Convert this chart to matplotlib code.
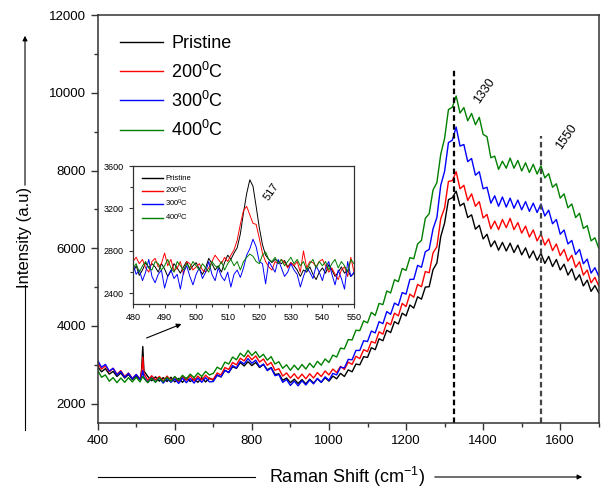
import numpy as np
import matplotlib
matplotlib.use('Agg')
import matplotlib.pyplot as plt

plt.rcParams['font.family'] = ['Liberation Sans', 'DejaVu Sans']
plt.rcParams['mathtext.fontset'] = 'custom'
plt.rcParams['mathtext.rm'] = 'Liberation Sans'
plt.rcParams['mathtext.it'] = 'Liberation Sans:italic'

# Raman shift grid (cm^-1), extra points around the 517 peak
shift = list(range(400, 511, 10)) + [514, 517, 520] + list(range(530, 1701, 10))

pristine = [2950, 2820, 2900, 2760, 2830, 2700, 2790, 2660, 2750, 2620, 2710, 2610,
            2880, 3470, 2840,
            2700, 2590, 2690, 2580, 2670, 2570, 2680, 2560, 2650, 2550, 2660, 2570, 2640, 2550, 2670, 2560, 2660,
            2600, 2730, 2690, 2860, 2800, 2950, 2910, 3060, 2970, 3080, 2980, 3060, 2930, 3010, 2870, 2930,
            2750, 2770, 2600, 2660,
            2540, 2630, 2520, 2620, 2510, 2630, 2530, 2640, 2550, 2670, 2580, 2710, 2640, 2780, 2700, 2870,
            2820, 3020, 3000, 3210,
            3190, 3440, 3390, 3670, 3620, 3890, 3830, 4110, 4050, 4330, 4260, 4540, 4460, 4750, 4690, 5000,
            5010, 5450, 5620, 6300,
            6650, 7250, 7300, 7470, 7090, 7160, 6790, 6860, 6490, 6590, 6240, 6360, 6040, 6190, 5950, 6150,
            5930, 6130, 5890, 6080,
            5830, 6010, 5750, 5930, 5690, 5870, 5610, 5790, 5530, 5710, 5440, 5590, 5310, 5470, 5180, 5320,
            5030, 5180, 4890, 5040, 4850]

c200 = [3040, 2890, 2970, 2820, 2910, 2760, 2850, 2700, 2790, 2650, 2750, 2630,
        2800, 3200, 2770,
        2600, 2720, 2610, 2700, 2580, 2710, 2590, 2690, 2570, 2700, 2600, 2720, 2590, 2710, 2610, 2730, 2640,
        2630, 2790, 2740, 2930, 2880, 3060, 3000, 3170, 3100, 3250, 3130, 3230, 3070, 3150, 2990, 3060,
        2860, 2900, 2710, 2790,
        2660, 2770, 2640, 2760, 2640, 2770, 2660, 2800, 2700, 2840, 2740, 2890, 2800, 2960, 2880, 3070,
        3010, 3220, 3160, 3390,
        3340, 3600, 3560, 3850, 3790, 4090, 4030, 4330, 4260, 4580, 4500, 4820, 4740, 5070, 5010, 5400,
        5370, 5880, 6040, 6760,
        7040, 7720, 7740, 7970, 7530, 7620, 7230, 7400, 7080, 7200, 6780, 6870, 6500, 6700, 6480, 6740,
        6530, 6770, 6480, 6660,
        6390, 6570, 6290, 6470, 6190, 6370, 6080, 6240, 5940, 6110, 5810, 5970, 5670, 5820, 5510, 5650,
        5310, 5440, 5110, 5250, 5030]

c300 = [3110, 2940, 3010, 2840, 2910, 2740, 2830, 2680, 2780, 2640, 2750, 2620,
        2700, 2850, 2680,
        2550, 2670, 2560, 2660, 2530, 2650, 2550, 2640, 2520, 2660, 2540, 2650, 2530, 2660, 2550, 2670, 2560,
        2570, 2740, 2690, 2860, 2800, 2980, 2920, 3090, 3020, 3160, 3040, 3120, 2950, 3020, 2850, 2920,
        2720, 2750, 2550, 2620,
        2470, 2580, 2460, 2590, 2480, 2610, 2510, 2650, 2550, 2690, 2600, 2780, 2740, 2940, 2920, 3140,
        3130, 3370, 3370, 3620,
        3600, 3870, 3820, 4110, 4060, 4370, 4300, 4590, 4530, 4860, 4820, 5200, 5200, 5560, 5510, 5910,
        5970, 6500, 6790, 7620,
        7980, 8720, 8780, 9120, 8630, 8670, 8230, 8310, 7880, 7970, 7530, 7570, 7160, 7350, 7080, 7320,
        7060, 7290, 7030, 7240,
        6990, 7200, 6950, 7160, 6920, 7140, 6830, 6980, 6630, 6740, 6360, 6470, 6110, 6200, 5840, 5970,
        5600, 5720, 5360, 5500, 5280]

c400 = [2860, 2680, 2740, 2580, 2670, 2540, 2660, 2550, 2670, 2560, 2680, 2560,
        2650, 2700, 2650,
        2540, 2660, 2550, 2670, 2560, 2680, 2570, 2700, 2600, 2730, 2640, 2760, 2670, 2790, 2700, 2830, 2740,
        2780, 2940, 2880, 3070, 3020, 3200, 3130, 3300, 3210, 3370, 3240, 3340, 3190, 3270, 3120, 3210,
        3020, 3080, 2910, 3000,
        2860, 2990, 2870, 3010, 2890, 3040, 2930, 3090, 2990, 3150, 3060, 3250, 3200, 3430, 3410, 3650,
        3640, 3890, 3880, 4130,
        4080, 4350, 4270, 4580, 4550, 4900, 4850, 5190, 5140, 5480, 5430, 5760, 5730, 6110, 6200, 6770,
        6890, 7500, 7690, 8420,
        8830, 9570, 9630, 9920, 9480, 9620, 9280, 9470, 9180, 9370, 8930, 8870, 8330, 8370, 8030, 8240,
        8060, 8320, 8060, 8260,
        7990, 8200, 7950, 8160, 7910, 8120, 7810, 7920, 7570, 7660, 7290, 7400, 7040, 7140, 6790, 6900,
        6510, 6580, 6190, 6270, 6000]

# inset: zoom on the 517 cm^-1 band
inset_shift = list(range(480, 551))

in_pristine = [2600, 2660, 2570, 2620, 2690, 2640, 2680, 2650, 2600, 2680, 2630, 2560, 2610, 2680, 2640,
               2590, 2650, 2700, 2620, 2660, 2690, 2630, 2580, 2640, 2730, 2680, 2620, 2660, 2600, 2690,
               2760, 2720, 2780, 2830, 2960, 3160, 3340, 3470, 3410, 3220, 3020, 2860, 2760, 2720, 2690,
               2720, 2700, 2680, 2710, 2650, 2690, 2660, 2620, 2560, 2620, 2600, 2650, 2580, 2530, 2600,
               2640, 2590, 2670, 2620, 2560, 2600, 2650, 2590, 2620, 2560, 2590]

in_200 = [2700, 2740, 2680, 2720, 2640, 2600, 2700, 2730, 2650, 2680, 2780, 2660, 2720, 2610, 2640,
          2700, 2580, 2700, 2680, 2620, 2650, 2680, 2620, 2600, 2640, 2700, 2760, 2720, 2680, 2740,
          2700, 2760, 2810, 2900, 3050, 3180, 3220, 3140, 3060, 3050, 2920, 2780, 2700, 2650, 2620,
          2700, 2680, 2720, 2690, 2640, 2690, 2660, 2700, 2600, 2800, 2640, 2700, 2690, 2650, 2700,
          2720, 2660, 2600, 2640, 2580, 2530, 2620, 2650, 2560, 2740, 2600]

in_300 = [2680, 2580, 2620, 2520, 2600, 2720, 2560, 2500, 2580, 2620, 2450, 2560, 2620, 2540, 2580,
          2440, 2600, 2660, 2560, 2480, 2580, 2640, 2540, 2600, 2700, 2580, 2520, 2640, 2560, 2520,
          2600, 2460, 2580, 2620, 2550, 2640, 2760, 2820, 2910, 2840, 2700, 2680, 2490, 2700, 2650,
          2600, 2720, 2640, 2560, 2600, 2680, 2620, 2580, 2460, 2560, 2640, 2600, 2540, 2660, 2600,
          2520, 2640, 2700, 2580, 2480, 2620, 2540, 2440, 2700, 2560, 2600]

in_400 = [2640, 2680, 2600, 2660, 2700, 2640, 2620, 2700, 2680, 2620, 2660, 2720, 2640, 2600, 2700,
          2660, 2620, 2680, 2640, 2700, 2660, 2620, 2680, 2640, 2600, 2700, 2660, 2640, 2700, 2620,
          2680, 2720, 2660, 2700, 2620, 2700, 2740, 2770, 2750, 2700, 2680, 2760, 2790, 2720, 2700,
          2740, 2680, 2720, 2660, 2700, 2740, 2680, 2720, 2660, 2700, 2620, 2680, 2720, 2640, 2700,
          2660, 2700, 2620, 2680, 2720, 2640, 2700, 2660, 2600, 2720, 2680]

labels = ['Pristine', '200$^{0}$C', '300$^{0}$C', '400$^{0}$C']
colors = ['black', 'red', 'blue', 'green']
series = [pristine, c200, c300, c400]
inset_series = [in_pristine, in_200, in_300, in_400]

fig = plt.figure(figsize=(6.03, 4.88), dpi=100)
ax = fig.add_axes([0.162, 0.133, 0.831, 0.836])

for y, c, lab in zip(series, colors, labels):
    ax.plot(shift, y, color=c, lw=1.0, label=lab)

ax.vlines(1325, 1500, 10650, colors='black', linestyles=(0, (2.5, 1.5)), lw=1.6)
ax.vlines(1550, 1500, 8900, colors='#444444', linestyles=(0, (2.5, 1.5)), lw=1.6)
ax.text(1404, 10040, '1330', rotation=55, fontsize=9, ha='center', va='center')
ax.text(1617, 8860, '1550', rotation=55, fontsize=9, ha='center', va='center')

ax.set_xlim(400, 1700)
ax.set_ylim(1500, 12000)
ax.set_xticks(range(400, 1601, 200))
ax.set_xticks(range(500, 1701, 200), minor=True)
ax.set_yticks(range(2000, 12001, 2000))
ax.set_yticks(range(3000, 12000, 2000), minor=True)
ax.tick_params(which='both', direction='out', labelsize=9.5, width=1, color='#333333')
ax.tick_params(which='major', length=5)
ax.tick_params(which='minor', length=3)
for s in ax.spines.values():
    s.set_linewidth(1.1)
    s.set_color('#333333')

leg = ax.legend(loc='upper left', bbox_to_anchor=(0.012, 0.99), frameon=False, fontsize=13,
                handlelength=2.4, handletextpad=0.45, labelspacing=0.5)
for h in leg.get_lines():
    h.set_linewidth(1.0)

# axis titles with Origin-style arrow lines
fig.text(347 / 603, 1 - 477 / 488, 'Raman Shift (cm$^{-1}$)', fontsize=13, ha='center', va='center')
fig.text(25 / 603, 1 - 237 / 488, 'Intensity (a.u)', fontsize=12, ha='center', va='center', rotation=90)
fig.add_artist(plt.Line2D([98 / 603, 255 / 603], [1 - 477 / 488] * 2, color='black', lw=0.8))
ax.annotate('', xy=(585 / 603, 1 - 477 / 488), xytext=(432 / 603, 1 - 477 / 488),
            xycoords='figure fraction', arrowprops=dict(arrowstyle='-|>', color='black', lw=0.8,
                                                        mutation_scale=7))
fig.add_artist(plt.Line2D([25 / 603] * 2, [1 - 285 / 488, 1 - 430 / 488], color='black', lw=0.8))
ax.annotate('', xy=(25 / 603, 1 - 33 / 488), xytext=(25 / 603, 1 - 188 / 488),
            xycoords='figure fraction', arrowprops=dict(arrowstyle='-|>', color='black', lw=0.8,
                                                        mutation_scale=7))

# arrow from the 517 peak to the inset
ax.annotate('', xy=(184 / 603, 1 - 323 / 488), xytext=(144 / 603, 1 - 339 / 488),
            xycoords='figure fraction', arrowprops=dict(arrowstyle='-|>', color='black', lw=0.8,
                                                        mutation_scale=7))

# inset
axin = fig.add_axes([133 / 603, 1 - 304 / 488, 221 / 603, 138 / 488])
for y, c, lab in zip(inset_series, colors, labels):
    axin.plot(inset_shift, y, color=c, lw=0.7, label=lab)
axin.set_xlim(480, 550)
axin.set_ylim(2300, 3600)
axin.set_xticks(range(480, 551, 10))
axin.set_xticks(range(485, 550, 10), minor=True)
axin.set_yticks(range(2400, 3601, 400))
axin.set_yticks(range(2600, 3600, 400), minor=True)
axin.tick_params(which='both', direction='out', labelsize=6.5, width=0.8, color='#333333')
axin.tick_params(which='major', length=3)
axin.tick_params(which='minor', length=2)
for s in axin.spines.values():
    s.set_linewidth(0.9)
    s.set_color('#333333')
axin.text(524, 3360, '517', rotation=55, fontsize=8, ha='center', va='center')
inleg = axin.legend(loc='upper left', bbox_to_anchor=(0.01, 0.985), frameon=False, fontsize=5.5,
                    handlelength=2.7, handletextpad=0.3, labelspacing=0.3)
for h in inleg.get_lines():
    h.set_linewidth(1.0)

fig.savefig('out.png', dpi=100)
